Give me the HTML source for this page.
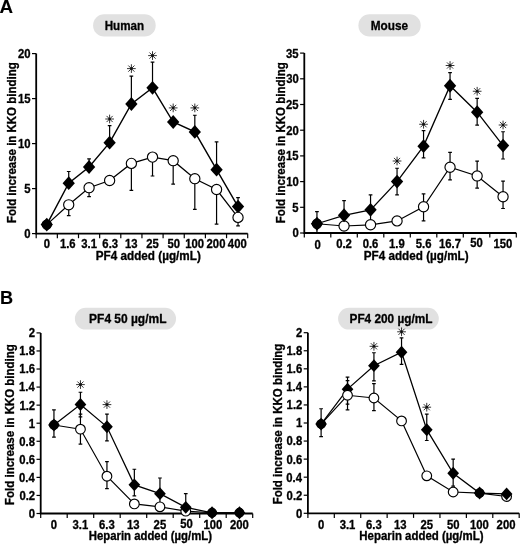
<!DOCTYPE html>
<html><head><meta charset="utf-8"><title>Figure</title>
<style>
html,body{margin:0;padding:0;background:#fff;}
svg{display:block;font-family:"Liberation Sans", sans-serif;font-weight:bold;fill:#000;filter:grayscale(1);}
text{stroke:#000;stroke-width:0.32px;stroke-linejoin:round;}
</style></head><body>
<svg width="520" height="544" viewBox="0 0 520 544">
<rect width="520" height="544" fill="#fff"/>
<text transform="translate(-0.47 12.75) scale(1.0448 1)" font-size="18" style="stroke-width:0.1px">A</text>
<text transform="translate(-0.08 303.70) scale(1.0109 1)" font-size="18" style="stroke-width:0.1px">B</text>
<rect x="93.1" y="14.3" width="62.599999999999994" height="22.2" rx="11.1" fill="#e1e1e1"/>
<text transform="translate(104.64 29.80) scale(0.8953 1)" font-size="13">Human</text>
<path d="M36.2 53.60V233.6H247.7" stroke="#000" stroke-width="1.8" fill="none" stroke-linejoin="miter"/>
<path d="M32.00 233.60H36.2" stroke="#000" stroke-width="1.2"/>
<text transform="translate(24.37 238.00) scale(0.9200 1)" font-size="12.3">0</text>
<path d="M32.00 188.60H36.2" stroke="#000" stroke-width="1.2"/>
<text transform="translate(24.20 193.00) scale(0.9200 1)" font-size="12.3">5</text>
<path d="M32.00 143.60H36.2" stroke="#000" stroke-width="1.2"/>
<text transform="translate(18.09 148.00) scale(0.9200 1)" font-size="12.3">10</text>
<path d="M32.00 98.60H36.2" stroke="#000" stroke-width="1.2"/>
<text transform="translate(17.92 103.00) scale(0.9200 1)" font-size="12.3">15</text>
<path d="M32.00 53.60H36.2" stroke="#000" stroke-width="1.2"/>
<text transform="translate(18.09 58.00) scale(0.9200 1)" font-size="12.3">20</text>
<path d="M36.20 233.6V238.20" stroke="#000" stroke-width="1.2"/>
<path d="M57.35 233.6V238.20" stroke="#000" stroke-width="1.2"/>
<path d="M78.50 233.6V238.20" stroke="#000" stroke-width="1.2"/>
<path d="M99.65 233.6V238.20" stroke="#000" stroke-width="1.2"/>
<path d="M120.80 233.6V238.20" stroke="#000" stroke-width="1.2"/>
<path d="M141.95 233.6V238.20" stroke="#000" stroke-width="1.2"/>
<path d="M163.10 233.6V238.20" stroke="#000" stroke-width="1.2"/>
<path d="M184.25 233.6V238.20" stroke="#000" stroke-width="1.2"/>
<path d="M205.40 233.6V238.20" stroke="#000" stroke-width="1.2"/>
<path d="M226.55 233.6V238.20" stroke="#000" stroke-width="1.2"/>
<path d="M247.70 233.6V238.20" stroke="#000" stroke-width="1.2"/>
<text transform="translate(43.63 247.70) scale(0.9200 1)" font-size="12.3">0</text>
<text transform="translate(59.89 247.70) scale(0.9200 1)" font-size="12.3">1.6</text>
<text transform="translate(81.21 247.70) scale(0.9200 1)" font-size="12.3">3.1</text>
<text transform="translate(102.36 247.70) scale(0.9200 1)" font-size="12.3">6.3</text>
<text transform="translate(124.92 247.70) scale(0.9200 1)" font-size="12.3">13</text>
<text transform="translate(146.19 247.70) scale(0.9200 1)" font-size="12.3">25</text>
<text transform="translate(167.45 247.70) scale(0.9200 1)" font-size="12.3">50</text>
<text transform="translate(185.26 247.70) scale(0.9200 1)" font-size="12.3">100</text>
<text transform="translate(206.58 247.70) scale(0.9200 1)" font-size="12.3">200</text>
<text transform="translate(227.85 247.70) scale(0.9200 1)" font-size="12.3">400</text>
<text transform="translate(95.74 259.90) scale(0.9768 1)" font-size="12">PF4 added (µg/mL)</text>
<text transform="translate(15.80 223.05) rotate(-90) scale(0.9343 1)" font-size="12.3">Fold increase in KKO binding</text>
<polyline points="46.78,224.60 68.72,204.80 89.08,187.70 109.62,180.50 131.38,163.40 152.52,157.10 173.18,160.70 194.82,178.70 216.57,189.50 238.03,217.40" fill="none" stroke="#000" stroke-width="1.25"/>
<path d="M68.72 204.80V215.60M66.88 215.60H70.57" stroke="#000" stroke-width="1.2" fill="none"/>
<path d="M89.08 187.70V196.70M87.23 196.70H90.92" stroke="#000" stroke-width="1.2" fill="none"/>
<path d="M131.38 163.40V190.40M129.53 190.40H133.22" stroke="#000" stroke-width="1.2" fill="none"/>
<path d="M152.52 157.10V176.00M150.67 176.00H154.37" stroke="#000" stroke-width="1.2" fill="none"/>
<path d="M173.18 160.70V184.10M171.33 184.10H175.03" stroke="#000" stroke-width="1.2" fill="none"/>
<path d="M194.82 178.70V209.30M192.97 209.30H196.67" stroke="#000" stroke-width="1.2" fill="none"/>
<path d="M216.57 189.50V224.15M214.72 224.15H218.42" stroke="#000" stroke-width="1.2" fill="none"/>
<path d="M238.03 217.40V225.95M236.18 225.95H239.88" stroke="#000" stroke-width="1.2" fill="none"/>
<polyline points="46.78,224.60 68.72,183.20 89.08,167.00 109.62,142.70 131.38,104.00 152.52,87.80 173.18,122.00 194.82,131.90 216.57,169.70 238.03,206.60" fill="none" stroke="#000" stroke-width="1.4"/>
<path d="M68.72 183.20V171.50M66.88 171.50H70.57" stroke="#000" stroke-width="1.2" fill="none"/>
<path d="M89.08 167.00V158.90M87.23 158.90H90.92" stroke="#000" stroke-width="1.2" fill="none"/>
<path d="M109.62 142.70V125.60M107.78 125.60H111.47" stroke="#000" stroke-width="1.2" fill="none"/>
<path d="M131.38 104.00V76.10M129.53 76.10H133.22" stroke="#000" stroke-width="1.2" fill="none"/>
<path d="M152.52 87.80V62.15M150.67 62.15H154.37" stroke="#000" stroke-width="1.2" fill="none"/>
<path d="M194.82 131.90V115.25M192.97 115.25H196.67" stroke="#000" stroke-width="1.2" fill="none"/>
<path d="M216.57 169.70V141.80M214.72 141.80H218.42" stroke="#000" stroke-width="1.2" fill="none"/>
<path d="M238.03 206.60V197.60M236.18 197.60H239.88" stroke="#000" stroke-width="1.2" fill="none"/>
<circle cx="46.78" cy="224.60" r="4.6" fill="#000" stroke="#000" stroke-width="1.15"/>
<circle cx="68.72" cy="204.80" r="5.1" fill="#fff" stroke="#000" stroke-width="1.15"/>
<circle cx="89.08" cy="187.70" r="5.1" fill="#fff" stroke="#000" stroke-width="1.15"/>
<circle cx="109.62" cy="180.50" r="5.1" fill="#fff" stroke="#000" stroke-width="1.15"/>
<circle cx="131.38" cy="163.40" r="5.1" fill="#fff" stroke="#000" stroke-width="1.15"/>
<circle cx="152.52" cy="157.10" r="5.1" fill="#fff" stroke="#000" stroke-width="1.15"/>
<circle cx="173.18" cy="160.70" r="5.1" fill="#fff" stroke="#000" stroke-width="1.15"/>
<circle cx="194.82" cy="178.70" r="5.1" fill="#fff" stroke="#000" stroke-width="1.15"/>
<circle cx="216.57" cy="189.50" r="5.1" fill="#fff" stroke="#000" stroke-width="1.15"/>
<path d="M46.78 217.70L52.93 224.60L46.78 231.50L40.63 224.60Z" fill="#000"/>
<path d="M68.72 176.30L74.88 183.20L68.72 190.10L62.57 183.20Z" fill="#000"/>
<path d="M89.08 160.10L95.23 167.00L89.08 173.90L82.92 167.00Z" fill="#000"/>
<path d="M109.62 135.80L115.78 142.70L109.62 149.60L103.47 142.70Z" fill="#000"/>
<path d="M131.38 97.10L137.53 104.00L131.38 110.90L125.22 104.00Z" fill="#000"/>
<path d="M152.52 80.90L158.67 87.80L152.52 94.70L146.37 87.80Z" fill="#000"/>
<path d="M173.18 115.10L179.33 122.00L173.18 128.90L167.03 122.00Z" fill="#000"/>
<path d="M194.82 125.00L200.97 131.90L194.82 138.80L188.67 131.90Z" fill="#000"/>
<path d="M216.57 162.80L222.72 169.70L216.57 176.60L210.42 169.70Z" fill="#000"/>
<path d="M238.03 199.70L244.18 206.60L238.03 213.50L231.88 206.60Z" fill="#000"/>
<circle cx="238.03" cy="217.40" r="5.1" fill="#fff" stroke="#000" stroke-width="1.15"/>
<path d="M105.28 119.00L113.97 119.00M106.55 115.92L112.70 122.08M109.62 114.65L109.62 123.35M112.70 115.92L106.55 122.08" stroke="#111" stroke-width="0.85" fill="none"/><circle cx="109.62" cy="119.00" r="1.35" fill="#111"/>
<path d="M127.03 68.60L135.72 68.60M128.30 65.52L134.45 71.68M131.38 64.25L131.38 72.95M134.45 65.52L128.30 71.68" stroke="#111" stroke-width="0.85" fill="none"/><circle cx="131.38" cy="68.60" r="1.35" fill="#111"/>
<path d="M148.17 55.60L156.87 55.60M149.45 52.52L155.60 58.68M152.52 51.25L152.52 59.95M155.60 52.52L149.45 58.68" stroke="#111" stroke-width="0.85" fill="none"/><circle cx="152.52" cy="55.60" r="1.35" fill="#111"/>
<path d="M168.83 107.90L177.53 107.90M170.10 104.82L176.25 110.98M173.18 103.55L173.18 112.25M176.25 104.82L170.10 110.98" stroke="#111" stroke-width="0.85" fill="none"/><circle cx="173.18" cy="107.90" r="1.35" fill="#111"/>
<path d="M190.47 107.90L199.17 107.90M191.75 104.82L197.90 110.98M194.82 103.55L194.82 112.25M197.90 104.82L191.75 110.98" stroke="#111" stroke-width="0.85" fill="none"/><circle cx="194.82" cy="107.90" r="1.35" fill="#111"/>
<rect x="358.4" y="14.3" width="62.30000000000001" height="22.2" rx="11.1" fill="#e1e1e1"/>
<text transform="translate(370.73 29.90) scale(0.9060 1)" font-size="13">Mouse</text>
<path d="M304.3 53.10V233.0H516.3" stroke="#000" stroke-width="1.8" fill="none" stroke-linejoin="miter"/>
<path d="M300.10 233.00H304.3" stroke="#000" stroke-width="1.2"/>
<text transform="translate(292.47 237.40) scale(0.9200 1)" font-size="12.3">0</text>
<path d="M300.10 207.30H304.3" stroke="#000" stroke-width="1.2"/>
<text transform="translate(292.30 211.70) scale(0.9200 1)" font-size="12.3">5</text>
<path d="M300.10 181.60H304.3" stroke="#000" stroke-width="1.2"/>
<text transform="translate(286.19 186.00) scale(0.9200 1)" font-size="12.3">10</text>
<path d="M300.10 155.90H304.3" stroke="#000" stroke-width="1.2"/>
<text transform="translate(286.02 160.30) scale(0.9200 1)" font-size="12.3">15</text>
<path d="M300.10 130.20H304.3" stroke="#000" stroke-width="1.2"/>
<text transform="translate(286.19 134.60) scale(0.9200 1)" font-size="12.3">20</text>
<path d="M300.10 104.50H304.3" stroke="#000" stroke-width="1.2"/>
<text transform="translate(286.02 108.90) scale(0.9200 1)" font-size="12.3">25</text>
<path d="M300.10 78.80H304.3" stroke="#000" stroke-width="1.2"/>
<text transform="translate(286.19 83.20) scale(0.9200 1)" font-size="12.3">30</text>
<path d="M300.10 53.10H304.3" stroke="#000" stroke-width="1.2"/>
<text transform="translate(286.02 57.50) scale(0.9200 1)" font-size="12.3">35</text>
<path d="M304.30 233.0V237.60" stroke="#000" stroke-width="1.2"/>
<path d="M330.80 233.0V237.60" stroke="#000" stroke-width="1.2"/>
<path d="M357.30 233.0V237.60" stroke="#000" stroke-width="1.2"/>
<path d="M383.80 233.0V237.60" stroke="#000" stroke-width="1.2"/>
<path d="M410.30 233.0V237.60" stroke="#000" stroke-width="1.2"/>
<path d="M436.80 233.0V237.60" stroke="#000" stroke-width="1.2"/>
<path d="M463.30 233.0V237.60" stroke="#000" stroke-width="1.2"/>
<path d="M489.80 233.0V237.60" stroke="#000" stroke-width="1.2"/>
<path d="M516.30 233.0V237.60" stroke="#000" stroke-width="1.2"/>
<text transform="translate(314.41 249.40) scale(0.9200 1)" font-size="12.3">0</text>
<text transform="translate(336.19 247.80) scale(0.9200 1)" font-size="12.3">0.2</text>
<text transform="translate(362.66 247.80) scale(0.9200 1)" font-size="12.3">0.6</text>
<text transform="translate(389.02 247.80) scale(0.9200 1)" font-size="12.3">1.9</text>
<text transform="translate(415.71 247.80) scale(0.9200 1)" font-size="12.3">5.6</text>
<text transform="translate(438.93 247.80) scale(0.9200 1)" font-size="12.3">16.7</text>
<text transform="translate(470.33 246.80) scale(0.9200 1)" font-size="12.3">50</text>
<text transform="translate(493.49 247.80) scale(0.9200 1)" font-size="12.3">150</text>
<text transform="translate(363.74 259.90) scale(0.9759 1)" font-size="12">PF4 added (µg/mL)</text>
<text transform="translate(284.50 223.15) rotate(-90) scale(0.9355 1)" font-size="12.3">Fold increase in KKO binding</text>
<polyline points="316.95,223.75 344.05,226.01 370.55,224.78 397.05,220.92 423.55,206.79 450.05,167.21 477.15,175.95 503.05,196.76" fill="none" stroke="#000" stroke-width="1.2"/>
<path d="M423.55 206.79V193.94M421.70 193.94H425.40" stroke="#000" stroke-width="1.2" fill="none"/>
<path d="M423.55 206.79V220.92M421.70 220.92H425.40" stroke="#000" stroke-width="1.2" fill="none"/>
<path d="M450.05 167.21V152.30M448.20 152.30H451.90" stroke="#000" stroke-width="1.2" fill="none"/>
<path d="M450.05 167.21V179.80M448.20 179.80H451.90" stroke="#000" stroke-width="1.2" fill="none"/>
<path d="M477.15 175.95V161.04M475.30 161.04H479.00" stroke="#000" stroke-width="1.2" fill="none"/>
<path d="M477.15 175.95V188.03M475.30 188.03H479.00" stroke="#000" stroke-width="1.2" fill="none"/>
<path d="M503.05 196.76V181.09M501.20 181.09H504.90" stroke="#000" stroke-width="1.2" fill="none"/>
<path d="M503.05 196.76V208.48M501.20 208.48H504.90" stroke="#000" stroke-width="1.2" fill="none"/>
<polyline points="316.95,223.75 344.05,215.27 370.55,209.87 397.05,181.60 423.55,146.13 450.05,85.74 477.15,112.21 503.05,145.62" fill="none" stroke="#000" stroke-width="1.3"/>
<path d="M316.95 223.75V211.67M315.10 211.67H318.80" stroke="#000" stroke-width="1.2" fill="none"/>
<path d="M316.95 223.75V232.49M315.10 232.49H318.80" stroke="#000" stroke-width="1.2" fill="none"/>
<path d="M344.05 215.27V200.62M342.20 200.62H345.90" stroke="#000" stroke-width="1.2" fill="none"/>
<path d="M344.05 215.27V227.86M342.20 227.86H345.90" stroke="#000" stroke-width="1.2" fill="none"/>
<path d="M370.55 209.87V194.96M368.70 194.96H372.40" stroke="#000" stroke-width="1.2" fill="none"/>
<path d="M370.55 209.87V222.72M368.70 222.72H372.40" stroke="#000" stroke-width="1.2" fill="none"/>
<path d="M397.05 181.60V168.24M395.20 168.24H398.90" stroke="#000" stroke-width="1.2" fill="none"/>
<path d="M397.05 181.60V194.96M395.20 194.96H398.90" stroke="#000" stroke-width="1.2" fill="none"/>
<path d="M423.55 146.13V130.71M421.70 130.71H425.40" stroke="#000" stroke-width="1.2" fill="none"/>
<path d="M423.55 146.13V157.96M421.70 157.96H425.40" stroke="#000" stroke-width="1.2" fill="none"/>
<path d="M450.05 85.74V72.63M448.20 72.63H451.90" stroke="#000" stroke-width="1.2" fill="none"/>
<path d="M450.05 85.74V99.36M448.20 99.36H451.90" stroke="#000" stroke-width="1.2" fill="none"/>
<path d="M477.15 112.21V98.33M475.30 98.33H479.00" stroke="#000" stroke-width="1.2" fill="none"/>
<path d="M477.15 112.21V125.06M475.30 125.06H479.00" stroke="#000" stroke-width="1.2" fill="none"/>
<path d="M503.05 145.62V131.74M501.20 131.74H504.90" stroke="#000" stroke-width="1.2" fill="none"/>
<path d="M503.05 145.62V158.98M501.20 158.98H504.90" stroke="#000" stroke-width="1.2" fill="none"/>
<circle cx="316.95" cy="223.75" r="4.6" fill="#000" stroke="#000" stroke-width="1.15"/>
<circle cx="344.05" cy="226.01" r="5.1" fill="#fff" stroke="#000" stroke-width="1.15"/>
<circle cx="370.55" cy="224.78" r="5.1" fill="#fff" stroke="#000" stroke-width="1.15"/>
<circle cx="397.05" cy="220.92" r="5.1" fill="#fff" stroke="#000" stroke-width="1.15"/>
<circle cx="423.55" cy="206.79" r="5.1" fill="#fff" stroke="#000" stroke-width="1.15"/>
<circle cx="450.05" cy="167.21" r="5.1" fill="#fff" stroke="#000" stroke-width="1.15"/>
<circle cx="477.15" cy="175.95" r="5.1" fill="#fff" stroke="#000" stroke-width="1.15"/>
<circle cx="503.05" cy="196.76" r="5.1" fill="#fff" stroke="#000" stroke-width="1.15"/>
<path d="M316.95 216.85L323.10 223.75L316.95 230.65L310.80 223.75Z" fill="#000"/>
<path d="M344.05 208.37L350.20 215.27L344.05 222.17L337.90 215.27Z" fill="#000"/>
<path d="M370.55 202.97L376.70 209.87L370.55 216.77L364.40 209.87Z" fill="#000"/>
<path d="M397.05 174.70L403.20 181.60L397.05 188.50L390.90 181.60Z" fill="#000"/>
<path d="M423.55 139.23L429.70 146.13L423.55 153.03L417.40 146.13Z" fill="#000"/>
<path d="M450.05 78.84L456.20 85.74L450.05 92.64L443.90 85.74Z" fill="#000"/>
<path d="M477.15 105.31L483.30 112.21L477.15 119.11L471.00 112.21Z" fill="#000"/>
<path d="M503.05 138.72L509.20 145.62L503.05 152.52L496.90 145.62Z" fill="#000"/>
<path d="M392.70 161.00L401.40 161.00M393.97 157.92L400.13 164.08M397.05 156.65L397.05 165.35M400.13 157.92L393.97 164.08" stroke="#111" stroke-width="0.85" fill="none"/><circle cx="397.05" cy="161.00" r="1.35" fill="#111"/>
<path d="M419.20 124.25L427.90 124.25M420.47 121.17L426.63 127.33M423.55 119.90L423.55 128.60M426.63 121.17L420.47 127.33" stroke="#111" stroke-width="0.85" fill="none"/><circle cx="423.55" cy="124.25" r="1.35" fill="#111"/>
<path d="M445.70 65.50L454.40 65.50M446.97 62.42L453.13 68.58M450.05 61.15L450.05 69.85M453.13 62.42L446.97 68.58" stroke="#111" stroke-width="0.85" fill="none"/><circle cx="450.05" cy="65.50" r="1.35" fill="#111"/>
<path d="M472.80 91.25L481.50 91.25M474.07 88.17L480.23 94.33M477.15 86.90L477.15 95.60M480.23 88.17L474.07 94.33" stroke="#111" stroke-width="0.85" fill="none"/><circle cx="477.15" cy="91.25" r="1.35" fill="#111"/>
<path d="M498.70 125.00L507.40 125.00M499.97 121.92L506.13 128.08M503.05 120.65L503.05 129.35M506.13 121.92L499.97 128.08" stroke="#111" stroke-width="0.85" fill="none"/><circle cx="503.05" cy="125.00" r="1.35" fill="#111"/>
<rect x="74.9" y="307.8" width="101.1" height="21.80000000000001" rx="10.900000000000006" fill="#e1e1e1"/>
<text transform="translate(89.12 322.70) scale(0.9202 1)" font-size="13">PF4 50 µg/mL</text>
<path d="M40.7 332.90V513.5H252.7" stroke="#000" stroke-width="1.8" fill="none" stroke-linejoin="miter"/>
<path d="M36.50 513.50H40.7" stroke="#000" stroke-width="1.2"/>
<text transform="translate(28.87 517.90) scale(0.9200 1)" font-size="12.3">0</text>
<path d="M36.50 495.44H40.7" stroke="#000" stroke-width="1.2"/>
<text transform="translate(19.42 499.84) scale(0.9200 1)" font-size="12.3">0.2</text>
<path d="M36.50 477.38H40.7" stroke="#000" stroke-width="1.2"/>
<text transform="translate(19.03 481.78) scale(0.9200 1)" font-size="12.3">0.4</text>
<path d="M36.50 459.32H40.7" stroke="#000" stroke-width="1.2"/>
<text transform="translate(19.37 463.72) scale(0.9200 1)" font-size="12.3">0.6</text>
<path d="M36.50 441.26H40.7" stroke="#000" stroke-width="1.2"/>
<text transform="translate(19.31 445.66) scale(0.9200 1)" font-size="12.3">0.8</text>
<path d="M36.50 423.20H40.7" stroke="#000" stroke-width="1.2"/>
<text transform="translate(28.70 427.60) scale(0.9200 1)" font-size="12.3">1</text>
<path d="M36.50 405.14H40.7" stroke="#000" stroke-width="1.2"/>
<text transform="translate(19.42 409.54) scale(0.9200 1)" font-size="12.3">1.2</text>
<path d="M36.50 387.08H40.7" stroke="#000" stroke-width="1.2"/>
<text transform="translate(19.03 391.48) scale(0.9200 1)" font-size="12.3">1.4</text>
<path d="M36.50 369.02H40.7" stroke="#000" stroke-width="1.2"/>
<text transform="translate(19.37 373.42) scale(0.9200 1)" font-size="12.3">1.6</text>
<path d="M36.50 350.96H40.7" stroke="#000" stroke-width="1.2"/>
<text transform="translate(19.31 355.36) scale(0.9200 1)" font-size="12.3">1.8</text>
<path d="M36.50 332.90H40.7" stroke="#000" stroke-width="1.2"/>
<text transform="translate(28.87 337.30) scale(0.9200 1)" font-size="12.3">2</text>
<path d="M40.70 513.5V518.10" stroke="#000" stroke-width="1.2"/>
<path d="M67.20 513.5V518.10" stroke="#000" stroke-width="1.2"/>
<path d="M93.70 513.5V518.10" stroke="#000" stroke-width="1.2"/>
<path d="M120.20 513.5V518.10" stroke="#000" stroke-width="1.2"/>
<path d="M146.70 513.5V518.10" stroke="#000" stroke-width="1.2"/>
<path d="M173.20 513.5V518.10" stroke="#000" stroke-width="1.2"/>
<path d="M199.70 513.5V518.10" stroke="#000" stroke-width="1.2"/>
<path d="M226.20 513.5V518.10" stroke="#000" stroke-width="1.2"/>
<path d="M252.70 513.5V518.10" stroke="#000" stroke-width="1.2"/>
<text transform="translate(50.81 529.40) scale(0.9200 1)" font-size="12.3">0</text>
<text transform="translate(72.59 529.40) scale(0.9200 1)" font-size="12.3">3.1</text>
<text transform="translate(99.09 529.40) scale(0.9200 1)" font-size="12.3">6.3</text>
<text transform="translate(127.00 529.40) scale(0.9200 1)" font-size="12.3">13</text>
<text transform="translate(153.61 529.40) scale(0.9200 1)" font-size="12.3">25</text>
<text transform="translate(180.23 528.40) scale(0.9200 1)" font-size="12.3">50</text>
<text transform="translate(203.39 529.40) scale(0.9200 1)" font-size="12.3">100</text>
<text transform="translate(230.06 529.40) scale(0.9200 1)" font-size="12.3">200</text>
<text transform="translate(88.76 539.80) scale(0.9466 1)" font-size="12">Heparin added (µg/mL)</text>
<text transform="translate(14.30 504.95) rotate(-90) scale(0.9343 1)" font-size="12.3">Fold increase in KKO binding</text>
<polyline points="53.95,425.01 80.45,429.16 106.95,476.21 134.35,503.93 159.95,506.82 185.75,511.15 212.05,512.78 239.45,512.78" fill="none" stroke="#000" stroke-width="1.15"/>
<path d="M80.45 429.16V414.17M78.60 414.17H82.30" stroke="#000" stroke-width="1.2" fill="none"/>
<path d="M80.45 429.16V444.15M78.60 444.15H82.30" stroke="#000" stroke-width="1.2" fill="none"/>
<path d="M106.95 476.21V461.67M105.10 461.67H108.80" stroke="#000" stroke-width="1.2" fill="none"/>
<path d="M106.95 476.21V488.67M105.10 488.67H108.80" stroke="#000" stroke-width="1.2" fill="none"/>
<polyline points="53.95,425.01 80.45,404.51 106.95,426.81 134.35,484.87 159.95,493.63 185.75,507.36 212.05,512.78 239.45,512.78" fill="none" stroke="#000" stroke-width="1.25"/>
<path d="M53.95 425.01V409.93M52.10 409.93H55.80" stroke="#000" stroke-width="1.2" fill="none"/>
<path d="M53.95 425.01V437.20M52.10 437.20H55.80" stroke="#000" stroke-width="1.2" fill="none"/>
<path d="M80.45 404.51V392.23M78.60 392.23H82.30" stroke="#000" stroke-width="1.2" fill="none"/>
<path d="M80.45 404.51V416.88M78.60 416.88H82.30" stroke="#000" stroke-width="1.2" fill="none"/>
<path d="M106.95 426.81V414.17M105.10 414.17H108.80" stroke="#000" stroke-width="1.2" fill="none"/>
<path d="M106.95 426.81V440.90M105.10 440.90H108.80" stroke="#000" stroke-width="1.2" fill="none"/>
<path d="M134.35 484.87V469.25M132.50 469.25H136.20" stroke="#000" stroke-width="1.2" fill="none"/>
<path d="M134.35 484.87V495.89M132.50 495.89H136.20" stroke="#000" stroke-width="1.2" fill="none"/>
<path d="M159.95 493.63V478.01M158.10 478.01H161.80" stroke="#000" stroke-width="1.2" fill="none"/>
<path d="M159.95 493.63V504.47M158.10 504.47H161.80" stroke="#000" stroke-width="1.2" fill="none"/>
<path d="M185.75 507.36V493.63M183.90 493.63H187.60" stroke="#000" stroke-width="1.2" fill="none"/>
<circle cx="53.95" cy="425.01" r="4.35" fill="#000" stroke="#000" stroke-width="1.15"/>
<circle cx="80.45" cy="429.16" r="4.85" fill="#fff" stroke="#000" stroke-width="1.15"/>
<circle cx="106.95" cy="476.21" r="4.85" fill="#fff" stroke="#000" stroke-width="1.15"/>
<circle cx="134.35" cy="503.93" r="4.85" fill="#fff" stroke="#000" stroke-width="1.15"/>
<circle cx="159.95" cy="506.82" r="4.85" fill="#fff" stroke="#000" stroke-width="1.15"/>
<circle cx="185.75" cy="511.15" r="4.85" fill="#fff" stroke="#000" stroke-width="1.15"/>
<circle cx="212.05" cy="512.78" r="4.35" fill="#000" stroke="#000" stroke-width="1.15"/>
<circle cx="239.45" cy="512.78" r="4.35" fill="#000" stroke="#000" stroke-width="1.15"/>
<path d="M53.95 418.56L59.80 425.01L53.95 431.46L48.10 425.01Z" fill="#000"/>
<path d="M80.45 398.06L86.30 404.51L80.45 410.96L74.60 404.51Z" fill="#000"/>
<path d="M106.95 420.36L112.80 426.81L106.95 433.26L101.10 426.81Z" fill="#000"/>
<path d="M134.35 478.42L140.20 484.87L134.35 491.32L128.50 484.87Z" fill="#000"/>
<path d="M159.95 487.18L165.80 493.63L159.95 500.08L154.10 493.63Z" fill="#000"/>
<path d="M185.75 500.91L191.60 507.36L185.75 513.81L179.90 507.36Z" fill="#000"/>
<path d="M212.05 506.33L217.90 512.78L212.05 519.23L206.20 512.78Z" fill="#000"/>
<path d="M239.45 506.33L245.30 512.78L239.45 519.23L233.60 512.78Z" fill="#000"/>
<path d="M76.10 384.60L84.80 384.60M77.37 381.52L83.53 387.68M80.45 380.25L80.45 388.95M83.53 381.52L77.37 387.68" stroke="#111" stroke-width="0.85" fill="none"/><circle cx="80.45" cy="384.60" r="1.35" fill="#111"/>
<path d="M102.60 404.60L111.30 404.60M103.87 401.52L110.03 407.68M106.95 400.25L106.95 408.95M110.03 401.52L103.87 407.68" stroke="#111" stroke-width="0.85" fill="none"/><circle cx="106.95" cy="404.60" r="1.35" fill="#111"/>
<rect x="338.1" y="307.7" width="100.69999999999999" height="21.900000000000034" rx="10.950000000000017" fill="#e1e1e1"/>
<text transform="translate(349.53 322.70) scale(0.9097 1)" font-size="13">PF4 200 µg/mL</text>
<path d="M307.9 332.70V513.3H519.2" stroke="#000" stroke-width="1.8" fill="none" stroke-linejoin="miter"/>
<path d="M303.70 513.30H307.9" stroke="#000" stroke-width="1.2"/>
<text transform="translate(296.07 517.70) scale(0.9200 1)" font-size="12.3">0</text>
<path d="M303.70 495.24H307.9" stroke="#000" stroke-width="1.2"/>
<text transform="translate(286.62 499.64) scale(0.9200 1)" font-size="12.3">0.2</text>
<path d="M303.70 477.18H307.9" stroke="#000" stroke-width="1.2"/>
<text transform="translate(286.23 481.58) scale(0.9200 1)" font-size="12.3">0.4</text>
<path d="M303.70 459.12H307.9" stroke="#000" stroke-width="1.2"/>
<text transform="translate(286.57 463.52) scale(0.9200 1)" font-size="12.3">0.6</text>
<path d="M303.70 441.06H307.9" stroke="#000" stroke-width="1.2"/>
<text transform="translate(286.51 445.46) scale(0.9200 1)" font-size="12.3">0.8</text>
<path d="M303.70 423.00H307.9" stroke="#000" stroke-width="1.2"/>
<text transform="translate(295.90 427.40) scale(0.9200 1)" font-size="12.3">1</text>
<path d="M303.70 404.94H307.9" stroke="#000" stroke-width="1.2"/>
<text transform="translate(286.62 409.34) scale(0.9200 1)" font-size="12.3">1.2</text>
<path d="M303.70 386.88H307.9" stroke="#000" stroke-width="1.2"/>
<text transform="translate(286.23 391.28) scale(0.9200 1)" font-size="12.3">1.4</text>
<path d="M303.70 368.82H307.9" stroke="#000" stroke-width="1.2"/>
<text transform="translate(286.57 373.22) scale(0.9200 1)" font-size="12.3">1.6</text>
<path d="M303.70 350.76H307.9" stroke="#000" stroke-width="1.2"/>
<text transform="translate(286.51 355.16) scale(0.9200 1)" font-size="12.3">1.8</text>
<path d="M303.70 332.70H307.9" stroke="#000" stroke-width="1.2"/>
<text transform="translate(296.07 337.10) scale(0.9200 1)" font-size="12.3">2</text>
<path d="M307.90 513.3V517.90" stroke="#000" stroke-width="1.2"/>
<path d="M334.31 513.3V517.90" stroke="#000" stroke-width="1.2"/>
<path d="M360.73 513.3V517.90" stroke="#000" stroke-width="1.2"/>
<path d="M387.14 513.3V517.90" stroke="#000" stroke-width="1.2"/>
<path d="M413.55 513.3V517.90" stroke="#000" stroke-width="1.2"/>
<path d="M439.96 513.3V517.90" stroke="#000" stroke-width="1.2"/>
<path d="M466.38 513.3V517.90" stroke="#000" stroke-width="1.2"/>
<path d="M492.79 513.3V517.90" stroke="#000" stroke-width="1.2"/>
<path d="M519.20 513.3V517.90" stroke="#000" stroke-width="1.2"/>
<text transform="translate(317.97 529.30) scale(0.9200 1)" font-size="12.3">0</text>
<text transform="translate(339.65 529.30) scale(0.9200 1)" font-size="12.3">3.1</text>
<text transform="translate(366.07 529.30) scale(0.9200 1)" font-size="12.3">6.3</text>
<text transform="translate(393.89 529.30) scale(0.9200 1)" font-size="12.3">13</text>
<text transform="translate(420.42 529.30) scale(0.9200 1)" font-size="12.3">25</text>
<text transform="translate(446.94 529.30) scale(0.9200 1)" font-size="12.3">50</text>
<text transform="translate(470.02 529.30) scale(0.9200 1)" font-size="12.3">100</text>
<text transform="translate(496.60 529.30) scale(0.9200 1)" font-size="12.3">200</text>
<text transform="translate(359.25 539.80) scale(0.9552 1)" font-size="12">Heparin added (µg/mL)</text>
<text transform="translate(281.80 504.35) rotate(-90) scale(0.9343 1)" font-size="12.3">Fold increase in KKO binding</text>
<polyline points="321.11,424.08 347.52,395.28 373.93,397.99 401.54,420.92 426.76,475.83 453.17,491.99 479.58,493.07 506.59,496.50" fill="none" stroke="#000" stroke-width="1.15"/>
<path d="M347.52 395.28V380.56M345.67 380.56H349.37" stroke="#000" stroke-width="1.2" fill="none"/>
<path d="M347.52 395.28V409.91M345.67 409.91H349.37" stroke="#000" stroke-width="1.2" fill="none"/>
<path d="M373.93 397.99V383.63M372.08 383.63H375.78" stroke="#000" stroke-width="1.2" fill="none"/>
<path d="M373.93 397.99V410.72M372.08 410.72H375.78" stroke="#000" stroke-width="1.2" fill="none"/>
<polyline points="321.11,424.08 347.52,389.14 373.93,365.66 401.54,352.20 426.76,429.68 453.17,473.30 479.58,493.07 506.59,493.89" fill="none" stroke="#000" stroke-width="1.25"/>
<path d="M321.11 424.08V408.73M319.26 408.73H322.96" stroke="#000" stroke-width="1.2" fill="none"/>
<path d="M321.11 424.08V436.54M319.26 436.54H322.96" stroke="#000" stroke-width="1.2" fill="none"/>
<path d="M347.52 389.14V377.22M345.67 377.22H349.37" stroke="#000" stroke-width="1.2" fill="none"/>
<path d="M347.52 389.14V404.04M345.67 404.04H349.37" stroke="#000" stroke-width="1.2" fill="none"/>
<path d="M373.93 365.66V352.75M372.08 352.75H375.78" stroke="#000" stroke-width="1.2" fill="none"/>
<path d="M373.93 365.66V380.92M372.08 380.92H375.78" stroke="#000" stroke-width="1.2" fill="none"/>
<path d="M401.54 352.20V337.85M399.69 337.85H403.39" stroke="#000" stroke-width="1.2" fill="none"/>
<path d="M401.54 352.20V364.30M399.69 364.30H403.39" stroke="#000" stroke-width="1.2" fill="none"/>
<path d="M426.76 429.68V414.15M424.91 414.15H428.61" stroke="#000" stroke-width="1.2" fill="none"/>
<path d="M426.76 429.68V440.52M424.91 440.52H428.61" stroke="#000" stroke-width="1.2" fill="none"/>
<path d="M453.17 473.30V459.12M451.32 459.12H455.02" stroke="#000" stroke-width="1.2" fill="none"/>
<path d="M453.17 473.30V486.21M451.32 486.21H455.02" stroke="#000" stroke-width="1.2" fill="none"/>
<circle cx="321.11" cy="424.08" r="4.35" fill="#000" stroke="#000" stroke-width="1.15"/>
<circle cx="373.93" cy="397.99" r="4.85" fill="#fff" stroke="#000" stroke-width="1.15"/>
<circle cx="401.54" cy="420.92" r="4.85" fill="#fff" stroke="#000" stroke-width="1.15"/>
<circle cx="426.76" cy="475.83" r="4.85" fill="#fff" stroke="#000" stroke-width="1.15"/>
<circle cx="453.17" cy="491.99" r="4.85" fill="#fff" stroke="#000" stroke-width="1.15"/>
<circle cx="479.58" cy="493.07" r="4.35" fill="#000" stroke="#000" stroke-width="1.15"/>
<circle cx="506.59" cy="496.50" r="4.85" fill="#fff" stroke="#000" stroke-width="1.15"/>
<path d="M321.11 417.63L326.96 424.08L321.11 430.53L315.26 424.08Z" fill="#000"/>
<path d="M347.52 382.69L353.37 389.14L347.52 395.59L341.67 389.14Z" fill="#000"/>
<path d="M373.93 359.21L379.78 365.66L373.93 372.11L368.08 365.66Z" fill="#000"/>
<path d="M401.54 345.75L407.39 352.20L401.54 358.65L395.69 352.20Z" fill="#000"/>
<path d="M426.76 423.23L432.61 429.68L426.76 436.13L420.91 429.68Z" fill="#000"/>
<path d="M453.17 466.85L459.02 473.30L453.17 479.75L447.32 473.30Z" fill="#000"/>
<path d="M479.58 486.62L485.43 493.07L479.58 499.52L473.73 493.07Z" fill="#000"/>
<path d="M506.59 487.44L512.44 493.89L506.59 500.34L500.74 493.89Z" fill="#000"/>
<circle cx="347.52" cy="395.28" r="4.85" fill="#fff" stroke="#000" stroke-width="1.15"/>
<path d="M369.58 346.30L378.28 346.30M370.86 343.22L377.01 349.38M373.93 341.95L373.93 350.65M377.01 343.22L370.86 349.38" stroke="#111" stroke-width="0.85" fill="none"/><circle cx="373.93" cy="346.30" r="1.35" fill="#111"/>
<path d="M397.19 331.80L405.89 331.80M398.47 328.72L404.62 334.88M401.54 327.45L401.54 336.15M404.62 328.72L398.47 334.88" stroke="#111" stroke-width="0.85" fill="none"/><circle cx="401.54" cy="331.80" r="1.35" fill="#111"/>
<path d="M422.41 407.20L431.11 407.20M423.68 404.12L429.83 410.28M426.76 402.85L426.76 411.55M429.83 404.12L423.68 410.28" stroke="#111" stroke-width="0.85" fill="none"/><circle cx="426.76" cy="407.20" r="1.35" fill="#111"/>
</svg></body></html>
